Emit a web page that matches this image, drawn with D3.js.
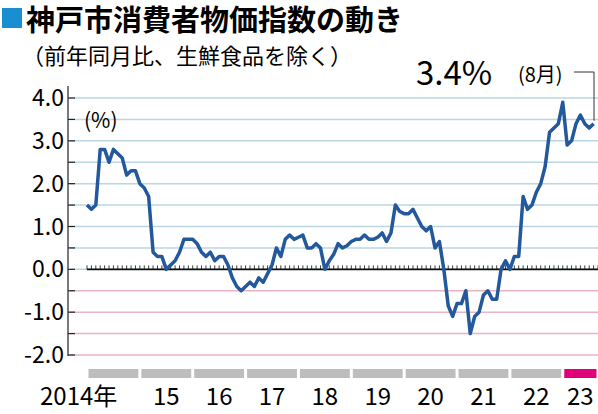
<!DOCTYPE html>
<html><head><meta charset="utf-8">
<script src="https://cdn.jsdelivr.net/npm/d3@7"></script>
<style>body{margin:0;background:#fff}text{font-family:"Noto Sans CJK JP","Noto Sans",sans-serif}</style>
</head><body><svg id="c" width="598" height="414"></svg>
<script>
// monthly values, 2014-01 .. 2023-08
const v2014 = [1.5, 1.4, 1.5, 2.8, 2.8, 2.5, 2.8, 2.7, 2.6, 2.2, 2.3, 2.3];
const v2015 = [2.0, 1.9, 1.7, 0.4, 0.3, 0.3, 0.0, 0.1, 0.2, 0.4, 0.7, 0.7];
const v2016 = [0.7, 0.6, 0.4, 0.3, 0.4, 0.2, 0.3, 0.3, 0.1, -0.2, -0.4, -0.5];
const v2017 = [-0.4, -0.3, -0.4, -0.2, -0.3, -0.1, 0.1, 0.5, 0.3, 0.7, 0.8, 0.7];
const v2018 = [0.75, 0.8, 0.5, 0.5, 0.6, 0.5, 0.0, 0.2, 0.35, 0.6, 0.5, 0.55];
const v2019 = [0.65, 0.7, 0.7, 0.8, 0.7, 0.7, 0.75, 0.85, 0.65, 0.85, 1.5, 1.35];
const v2020 = [1.3, 1.3, 1.4, 1.2, 1.0, 0.9, 1.0, 0.5, 0.65, 0.0, -0.85, -1.1];
const v2021 = [-0.8, -0.8, -0.5, -1.5, -1.1, -1.0, -0.6, -0.5, -0.7, -0.7, 0.0, 0.2];
const v2022 = [0.0, 0.3, 0.3, 1.7, 1.4, 1.5, 1.8, 2.0, 2.4, 3.2, 3.3, 3.4];
const v2023 = [3.9, 2.9, 3.0, 3.4, 3.6, 3.4, 3.3, 3.4];
const years = [2014, 2015, 2016, 2017, 2018, 2019, 2020, 2021, 2022, 2023];
const yearLabels = ["2014年", "15", "16", "17", "18", "19", "20", "21", "22", "23"];
const yTicks = [4.0, 3.0, 2.0, 1.0, 0.0, -1.0, -2.0];

const values = [].concat(v2014, v2015, v2016, v2017, v2018, v2019, v2020, v2021, v2022, v2023);
const svg = d3.select('#c');

const x = d3.scaleLinear().domain([0, 116]).range([87, 598]);
const y = d3.scaleLinear().domain([-2, 4]).range([355, 98]);

// title
svg.append('rect').attr('x', 2).attr('y', 8).attr('width', 20).attr('height', 20).attr('fill', '#1a8fd0');
svg.append('text').attr('x', 26).attr('y', 31).attr('font-size', 29).attr('font-weight', 'bold').text('神戸市消費者物価指数の動き');
svg.append('text').attr('x', 22).attr('y', 64).attr('font-size', 22).text('（前年同月比、生鮮食品を除く）');

// grid lines every 0.5
d3.range(-2, 4.01, 0.5).forEach(t => {
  svg.append('line').attr('x1', 70).attr('x2', 598).attr('y1', y(t)).attr('y2', y(t))
    .attr('stroke', t < 0 ? '#e8b4c4' : '#b9d6e6').attr('stroke-width', 1.5);
});

// y axis
svg.append('line').attr('x1', 68).attr('x2', 68).attr('y1', 86).attr('y2', 356).attr('stroke', '#222').attr('stroke-width', 1.2);
d3.range(-2, 4.01, 0.5).forEach(t => {
  svg.append('line').attr('x1', 68).attr('x2', 75).attr('y1', y(t)).attr('y2', y(t)).attr('stroke', '#222').attr('stroke-width', 1.2);
});
svg.selectAll('.yl').data(yTicks).join('text')
  .attr('x', 64).attr('y', d => y(d) + 8).attr('text-anchor', 'end').attr('font-size', 23)
  .attr('font-family', 'Liberation Sans, Arial, sans-serif')
  .text(d => d.toFixed(1));

svg.append('text').attr('x', 84).attr('y', 128).attr('font-size', 21).text('(%)');

// zero line with monthly ticks
svg.append('line').attr('x1', 87).attr('x2', 598).attr('y1', y(0)).attr('y2', y(0)).attr('stroke', '#111').attr('stroke-width', 1.6);
svg.selectAll('.mt').data(d3.range(0, 117)).join('line')
  .attr('x1', d => x(d)).attr('x2', d => x(d)).attr('y1', y(0) - 4).attr('y2', y(0))
  .attr('stroke', '#111').attr('stroke-width', 0.8);

// year bars and labels
years.forEach((yr, i) => {
  const m0 = i * 12, m1 = Math.min(m0 + 12, 116);
  svg.append('rect').attr('x', x(m0) + 1.5).attr('y', 369).attr('width', x(m1) - x(m0) - 3).attr('height', 9)
    .attr('fill', yr === 2023 ? '#e0007a' : '#bdbdbd');
  svg.append('text').attr('x', i === 0 ? 40 : (x(m0) + x(m1)) / 2).attr('y', 405)
    .attr('text-anchor', i === 0 ? 'start' : 'middle').attr('font-size', 24)
    .attr('font-family', i === 0 ? null : 'Liberation Sans, Arial, sans-serif')
    .text(yearLabels[i]);
});

// line
const line = d3.line().x((d, i) => x(i)).y(d => y(d));
svg.append('path').datum(values).attr('d', line).attr('fill', 'none')
  .attr('stroke', '#24589c').attr('stroke-width', 3.5).attr('stroke-linejoin', 'round');

// annotation
const last = values.length - 1;
svg.append('path').attr('d', `M574,72 H594 V${y(values[last]) - 3}`).attr('fill', 'none').attr('stroke', '#333').attr('stroke-width', 1);
svg.append('text').attr('x', 416).attr('y', 85).attr('font-size', 33).attr('font-family', 'Liberation Sans, Arial, sans-serif').text('3.4%');
svg.append('text').attr('x', 518).attr('y', 82).attr('font-size', 20).text('(8月)');
</script></body></html>
